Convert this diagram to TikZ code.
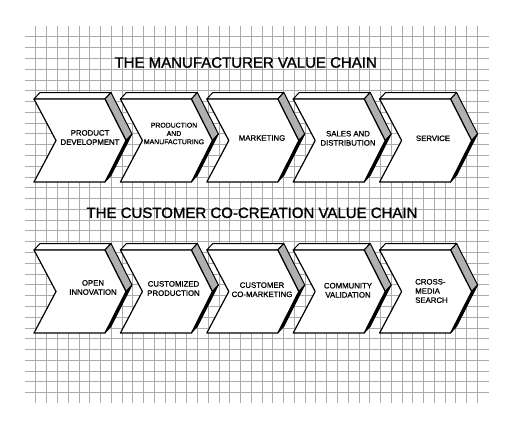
\documentclass[tikz,border=0pt]{standalone}
\usepackage{fontspec}
\setmainfont{Liberation Sans}
\newfontfamily\handfont[FakeBold=0.9]{Liberation Sans}
\newfontfamily\titlefont[FakeBold=1.2]{Liberation Sans}
\tikzset{
  gridline/.style={draw=gray!65, line width=0.5pt},
  frontface/.style={draw=black, fill=white, line width=1.2pt, line join=round},
  topface/.style={draw=black, fill=white, line width=1pt, line join=round},
  sideface/.style={draw=black, fill=gray!62, line width=1pt, line join=round},
  shadeface/.style={draw=black, fill=black, line width=0.8pt, line join=round},
  chevlabel/.style={align=center, font=\handfont\fontsize{7.8}{9.2}\selectfont, inner sep=0pt},
  titlelabel/.style={font=\titlefont\fontsize{15}{17}\selectfont, inner sep=0pt}
}
\newcommand\mychevron[2]{%
  % #1 = left x of front face, #2 = top y of front face
  \pgfmathsetmacro\xa{#1}\pgfmathsetmacro\ya{#2}%
  \pgfmathsetmacro\yb{#2+83}\pgfmathsetmacro\ym{#2+41.5}%
  \filldraw[topface] (\xa,\ya) -- ({\xa+6},{\ya-6.5}) -- ({\xa+77},{\ya-6.5}) -- ({\xa+71},\ya) -- cycle;
  \filldraw[sideface] ({\xa+71},\ya) -- ({\xa+77},{\ya-6.5}) -- ({\xa+98},{\ym-6.5}) -- ({\xa+92},\ym) -- cycle;
  \filldraw[shadeface] ({\xa+92},\ym) -- ({\xa+98},{\ym-6.5}) -- ({\xa+77},{\yb-6.5}) -- ({\xa+71},\yb) -- cycle;
  \filldraw[frontface] (\xa,\ya) -- ({\xa+71},\ya) -- ({\xa+92},\ym) -- ({\xa+71},\yb) -- (\xa,\yb) -- ({\xa+22},\ym) -- cycle;
}
\begin{document}
\begin{tikzpicture}[x=1pt,y=-1pt]
\useasboundingbox (0,0) rectangle (518,429);
\fill[white] (0,0) rectangle (518,429);
% grid
\foreach \i in {0,...,41} \draw[gridline] ({35.7+10.77*\i},26) -- ({35.7+10.77*\i},403);
\foreach \j in {0,...,33} \draw[gridline] (25,{36.7+10.78*\j}) -- (489,{36.7+10.78*\j});
% titles
\node[titlelabel] (title1) at (245.7,62.5) {THE MANUFACTURER VALUE CHAIN};
\node[titlelabel] (title2) at (252,212.8) {THE CUSTOMER CO-CREATION VALUE CHAIN};
% row 1
\foreach \k in {0,...,4} {\mychevron{34+86.4*\k}{99}}
% row 2
\foreach \k in {0,...,4} {\mychevron{34+86.4*\k}{250}}
% labels row 1
\node[chevlabel] (pd) at (90,137.5) {PRODUCT\\DEVELOPMENT};
\node[chevlabel, font=\handfont\fontsize{6.9}{8.3}\selectfont] (pm) at (174,133.5) {PRODUCTION\\AND\\MANUFACTURING};
\node[chevlabel] (mk) at (262,138) {MARKETING};
\node[chevlabel] (sd) at (348,138.3) {SALES AND\\DISTRIBUTION};
\node[chevlabel] (sv) at (433,138.3) {SERVICE};
% labels row 2
\node[chevlabel] (oi) at (93,287.5) {OPEN\\INNOVATION};
\node[chevlabel] (cp) at (173.5,288.5) {CUSTOMIZED\\PRODUCTION};
\node[chevlabel] (cm) at (262,289.7) {CUSTOMER\\CO-MARKETING};
\node[chevlabel] (cv) at (348,290.3) {COMMUNITY\\VALIDATION};
\node[chevlabel, align=left, anchor=west] (cs) at (415,291) {CROSS-\\MEDIA\\SEARCH};
\end{tikzpicture}
\end{document}
